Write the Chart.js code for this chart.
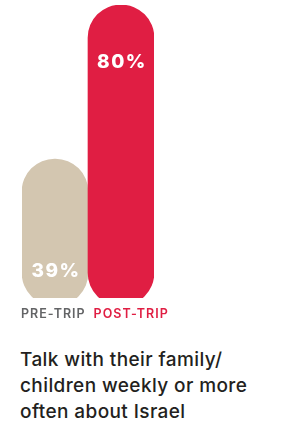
<!DOCTYPE html>
<html>
<head>
<meta charset="utf-8">
<script src="https://cdn.jsdelivr.net/npm/chart.js@4/dist/chart.umd.min.js"></script>
<style>
  html, body { margin: 0; padding: 0; background: #fff; }
  #wrap { position: relative; width: 281px; height: 425px; overflow: hidden; }
  #box { position: absolute; left: 0; top: 0; width: 281px; height: 330px; }
  #caption {
    position: absolute; left: 20px; top: 347px; width: 270px;
    font-family: Inter, sans-serif; font-weight: 500;
    font-size: 19px; line-height: 26px; color: #231f20;
    letter-spacing: 0.4px; white-space: nowrap;
  }
</style>
</head>
<body>
<div id="wrap">
  <div id="box"><canvas id="chart"></canvas></div>
  <div id="caption">Talk with their family/<br>children weekly or more<br>often about Israel</div>
</div>
<script>
const categories = ["PRE-TRIP", "POST-TRIP"]
const values = [39, 80]
const barColors = ["#d3c6b0", "#e01e43"]
const labelColors = ["#636466", "#e01e43"]

// value labels: first sits near the bottom of its bar, second near the top
const valueLabels = {
  id: "valueLabels",
  afterDatasetsDraw(chart) {
    const { ctx } = chart
    const meta = chart.getDatasetMeta(0)
    ctx.save()
    ctx.font = "800 19px Inter, sans-serif"
    ctx.letterSpacing = "1.5px"
    ctx.fillStyle = "#fff"
    ctx.textAlign = "center"
    ctx.textBaseline = "middle"
    meta.data.forEach((bar, i) => {
      const y = i === 0 ? bar.base - 34 : bar.y + 57
      ctx.fillText(values[i] + "%", bar.x + 1, y)
    })
    ctx.restore()
  }
}

// category names in one row under the bars, coloured per bar
const categoryLabels = {
  id: "categoryLabels",
  afterDraw(chart) {
    const { ctx } = chart
    const meta = chart.getDatasetMeta(0)
    ctx.save()
    ctx.font = "600 12.5px Inter, sans-serif"
    ctx.letterSpacing = "1px"
    ctx.textAlign = "left"
    ctx.textBaseline = "middle"
    let x = meta.data[0].x - meta.data[0].width / 2 - 1
    const y = chart.chartArea.bottom + 16
    categories.forEach((c, i) => {
      ctx.fillStyle = labelColors[i]
      ctx.fillText(c, x, y)
      x += ctx.measureText(c).width + 8
    })
    ctx.restore()
  }
}

new Chart(document.getElementById("chart"), {
  type: "bar",
  data: {
    labels: categories,
    datasets: [{
      data: values,
      backgroundColor: barColors,
      borderRadius: 40,
      borderSkipped: false,
      categoryPercentage: 1,
      barPercentage: 1,
    }]
  },
  options: {
    responsive: true,
    maintainAspectRatio: false,
    animation: false,
    layout: { padding: { left: 22, right: 127, top: 5, bottom: 32 } },
    plugins: {
      legend: { display: false },
      tooltip: { enabled: false },
    },
    scales: {
      x: { display: false },
      y: { display: false, min: 2, max: 80 },
    }
  },
  plugins: [valueLabels, categoryLabels]
})
</script>
</body>
</html>
